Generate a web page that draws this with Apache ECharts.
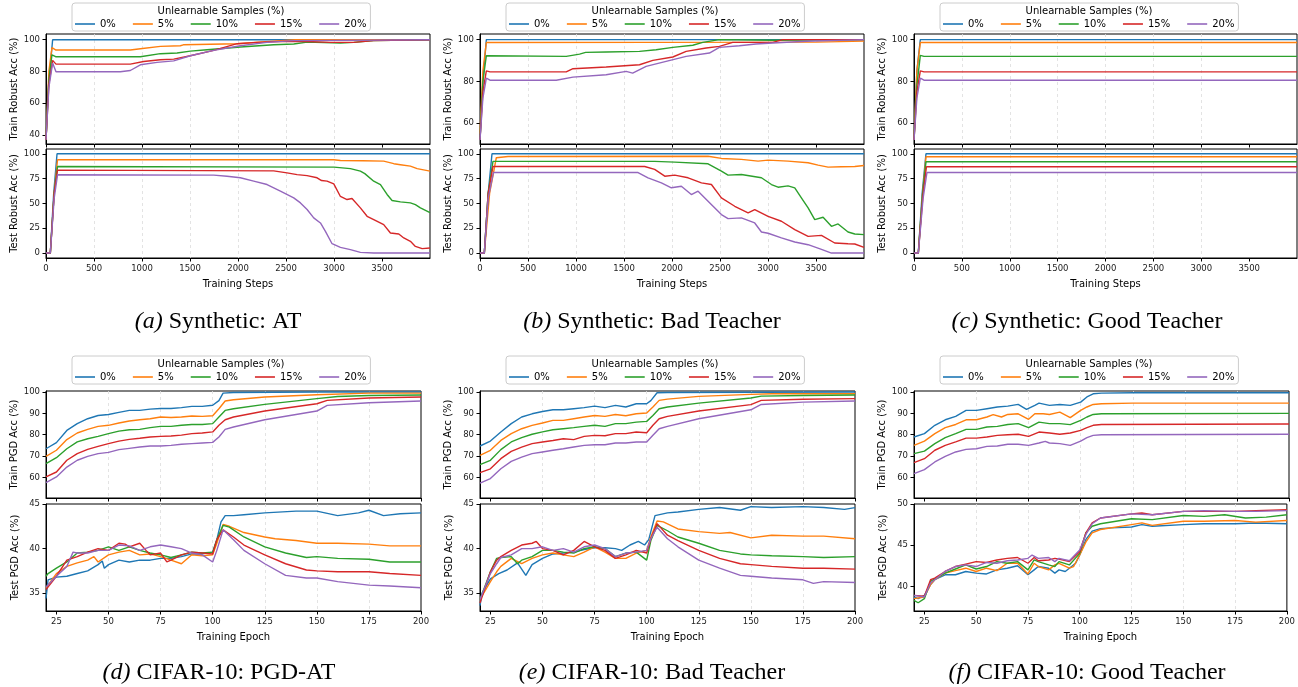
<!DOCTYPE html>
<html>
<head>
<meta charset="utf-8">
<script src="https://cdn.jsdelivr.net/npm/echarts@6.0.0/dist/echarts.min.js"></script>
<style>
  html, body { margin: 0; padding: 0; background: #fff; }
  #chart { width: 1298px; height: 687px; }
</style>
</head>
<body>
<div id="chart"></div>
<script>
// series names / colours (matplotlib tab10)
const seriesNames = ['0%', '5%', '10%', '15%', '20%'];
const COLORS = ['#1f77b4', '#ff7f0e', '#2ca02c', '#d62728', '#9467bd'];

// tick labels
const stepTicks = [0, 500, 1000, 1500, 2000, 2500, 3000, 3500];
const epochTicks = [25, 50, 75, 100, 125, 150, 175, 200];
const atTrainTicks = [40, 60, 80, 100];
const teacherTrainTicks = [60, 80, 100];
const synthTestTicks = [0, 25, 50, 75, 100];
const cifarTrainTicks = [60, 70, 80, 90, 100];
const cifarTestTicks = [35, 40, 45];
const goodTestTicks = [40, 45, 50];

// (a) Synthetic: AT  -- [step, acc]
const atTrain0 = [[0, 37], [25, 70], [69, 100], [3999, 100]];
const atTrain5 = [[0, 37], [30, 80], [62, 95], [104, 93.5], [878, 93.5], [983, 94.3], [1191, 95.8], [1399, 96.2], [1430, 96.8], [1990, 97.5], [2441, 99.4], [2600, 100], [3999, 100]];
const atTrain10 = [[0, 37], [30, 75], [62, 90.5], [100, 89.3], [983, 89.3], [1191, 91.2], [1365, 91.6], [1503, 92.8], [1677, 93.7], [2024, 95.4], [2372, 96.8], [2580, 97.3], [2719, 98.5], [3066, 97.9], [3205, 98.3], [3413, 99.4], [3999, 100]];
const atTrain15 = [[0, 37], [30, 72], [69, 87], [104, 84.6], [878, 84.6], [1017, 86.3], [1191, 87.4], [1330, 87.8], [1503, 89.9], [1747, 93.3], [1990, 97.5], [2198, 98.3], [2441, 98.9], [2719, 98.9], [2962, 98.3], [3205, 98.3], [3413, 99.4], [3999, 100]];
const atTrain20 = [[0, 37], [30, 70], [69, 85.3], [104, 79.8], [774, 79.8], [878, 80.6], [983, 84.2], [1156, 85.7], [1330, 86.7], [1503, 89.9], [1747, 93.3], [2024, 96.2], [2302, 98.3], [2580, 99.4], [3999, 100]];
const atTest0 = [[0, 0], [45, 0], [80, 60], [115, 100], [3999, 100]];
const atTest5 = [[0, 0], [45, 0], [85, 60], [120, 94], [2997, 94], [3066, 93.2], [3300, 93], [3517, 92.6], [3622, 90], [3691, 89], [3795, 87.5], [3865, 85], [3999, 82.5]];
const atTest10 = [[0, 0], [45, 0], [85, 60], [120, 87.2], [3000, 86.5], [3170, 85], [3274, 82.5], [3320, 80], [3413, 72.4], [3483, 69], [3552, 59], [3604, 52.9], [3691, 51.5], [3795, 50.5], [3847, 48.8], [3899, 45.5], [3999, 40.7]];
const atTest15 = [[0, 0], [45, 0], [85, 60], [120, 83.5], [2371, 82.8], [2510, 80.8], [2615, 79], [2719, 78], [2823, 75.8], [2870, 73], [2927, 72.4], [2997, 69.7], [3066, 57], [3135, 53.9], [3187, 54.9], [3274, 45.5], [3344, 37], [3413, 33.7], [3517, 28.6], [3587, 20.2], [3674, 19.2], [3726, 15.2], [3795, 11.8], [3847, 6.7], [3917, 4.4], [3999, 5]];
const atTest20 = [[0, 0], [45, 0], [85, 55], [120, 78.8], [1747, 78.5], [1885, 77.4], [2024, 75.8], [2163, 72.4], [2302, 69], [2441, 62.3], [2580, 55.6], [2650, 50.5], [2719, 43.8], [2788, 35.4], [2858, 30.3], [2910, 21.9], [2979, 9.4], [3066, 5.7], [3170, 3.4], [3274, 0.7], [3413, 0], [3999, 0]];

// (b) Synthetic: Bad Teacher
const btTrain0 = [[0, 52], [30, 80], [66, 100], [3999, 100]];
const btTrain5 = [[0, 55], [30, 85], [66, 98.6], [3500, 98.8], [3999, 99.3]];
const btTrain10 = [[0, 52], [30, 80], [66, 92.3], [898, 92], [1037, 93.1], [1100, 93.9], [1314, 94.1], [1661, 94.4], [1834, 95.2], [2008, 96.3], [2216, 97.3], [2320, 98.7], [2493, 100], [3048, 99.7], [3999, 100]];
const btTrain15 = [[0, 52], [30, 75], [66, 85.1], [104, 84.6], [898, 84.6], [968, 86.1], [1314, 86.9], [1661, 88], [1800, 90.1], [2008, 91.7], [2147, 94.4], [2355, 96], [2493, 96.8], [2632, 98.7], [3048, 98.7], [3152, 100], [3999, 100]];
const btTrain20 = [[0, 52], [30, 72], [66, 81.6], [104, 80.6], [794, 80.6], [968, 82.1], [1314, 83.2], [1522, 84.8], [1590, 84], [1730, 87.2], [1938, 89.6], [2147, 92], [2389, 93.6], [2493, 96.3], [2701, 97.1], [2874, 97.9], [3048, 98.4], [3395, 99.2], [3999, 100]];
const btTest0 = [[0, 0], [45, 0], [85, 60], [125, 100], [3999, 100]];
const btTest5 = [[0, 0], [45, 0], [100, 60], [170, 96], [292, 97.3], [2375, 97.5], [2514, 95.3], [2722, 94.3], [2896, 92.6], [3000, 93.6], [3208, 92.6], [3417, 90.9], [3521, 88.6], [3625, 86.5], [3764, 86.9], [3903, 87.2], [3999, 88.2]];
const btTest10 = [[0, 0], [45, 0], [85, 60], [135, 92.3], [1819, 92.3], [2028, 91.6], [2375, 89.9], [2514, 82.5], [2583, 78.5], [2722, 79.1], [2931, 75.8], [3035, 69], [3104, 66.3], [3208, 67.7], [3278, 65.7], [3347, 55.6], [3417, 45.5], [3486, 33.7], [3573, 36], [3660, 26.9], [3729, 29.3], [3833, 21.2], [3903, 19.2], [3999, 18.5]];
const btTest15 = [[0, 0], [45, 0], [85, 60], [135, 87.2], [1715, 87.2], [1819, 84.2], [1924, 77.4], [2028, 78.5], [2167, 75.8], [2306, 70.7], [2410, 69], [2514, 55.6], [2653, 47.1], [2792, 40.4], [2861, 43.8], [3000, 37], [3139, 32], [3278, 23.6], [3417, 16.8], [3556, 17.8], [3694, 10.1], [3833, 9.4], [3903, 9.1], [3999, 5.7]];
const btTest20 = [[0, 0], [45, 0], [85, 55], [140, 81.1], [1646, 81.1], [1750, 75.8], [1889, 70.7], [1993, 65.7], [2097, 67.3], [2201, 58.9], [2271, 62.3], [2375, 52.2], [2514, 38.7], [2583, 34.7], [2722, 35.4], [2861, 30.3], [2931, 21.2], [3000, 19.9], [3139, 15.2], [3278, 11.1], [3417, 8.4], [3556, 3.7], [3660, 0], [3999, 0]];

// (c) Synthetic: Good Teacher
const gtTrain0 = [[0, 52], [30, 85], [66, 100], [3999, 100]];
const gtTrain5 = [[0, 52], [30, 85], [66, 98.6], [3999, 98.6]];
const gtTrain10 = [[0, 52], [30, 78], [66, 92.5], [104, 92], [3999, 92]];
const gtTrain15 = [[0, 52], [30, 75], [66, 85.1], [104, 84.6], [3999, 84.6]];
const gtTrain20 = [[0, 52], [30, 72], [66, 81.6], [104, 80.6], [3999, 80.6]];
const gtTest0 = [[0, 0], [45, 0], [85, 60], [125, 100], [3999, 100]];
const gtTest5 = [[0, 0], [45, 0], [90, 60], [125, 97], [3999, 97]];
const gtTest10 = [[0, 0], [45, 0], [90, 60], [125, 91.9], [3999, 91.9]];
const gtTest15 = [[0, 0], [45, 0], [95, 60], [130, 86.9], [3999, 86.9]];
const gtTest20 = [[0, 0], [45, 0], [95, 55], [135, 81.1], [3999, 81.1]];

// (d) CIFAR-10: PGD-AT  -- [epoch, acc]
const pgdTrain0 = [[20, 73.4], [25, 76.3], [30, 82], [35, 85.2], [40, 87.5], [45, 89], [50, 89.5], [55, 90.5], [60, 91.4], [65, 91.4], [70, 92], [75, 92.3], [80, 92.3], [85, 92.7], [90, 93.3], [95, 93.3], [100, 93.8], [103, 96], [105, 99.5], [110, 99.8], [150, 100], [200, 100]];
const pgdTrain5 = [[20, 69.8], [25, 72.7], [30, 77.7], [35, 80.8], [40, 82.5], [45, 83.9], [50, 84.4], [55, 85.5], [60, 86.4], [65, 87], [70, 87.5], [75, 88.3], [80, 88.1], [85, 88.3], [90, 88.8], [95, 88.6], [100, 88.9], [103, 92.2], [106, 95.8], [110, 96.4], [125, 97.7], [150, 98.75], [175, 99.5], [200, 99.5]];
const pgdTrain10 = [[20, 66.4], [25, 69.2], [30, 73.4], [35, 76.6], [40, 78.1], [45, 79.2], [50, 80.5], [55, 81.7], [60, 82.3], [65, 82.5], [70, 83.3], [75, 83.9], [80, 83.9], [85, 84.4], [90, 84.8], [95, 84.8], [100, 85.2], [103, 88.3], [106, 91.4], [110, 92.2], [125, 94.2], [150, 96.9], [160, 97.9], [175, 98.4], [200, 98.6]];
const pgdTrain15 = [[20, 60.2], [25, 62.5], [30, 68], [35, 71.1], [40, 73.1], [45, 74.5], [50, 75.8], [55, 77], [60, 77.8], [65, 78.3], [70, 78.9], [75, 79.2], [80, 79.4], [85, 79.8], [90, 80.5], [95, 80.8], [100, 81.3], [103, 84.4], [106, 87], [110, 88.3], [125, 91.1], [150, 94.5], [155, 96.1], [175, 97.2], [200, 97.7]];
const pgdTrain20 = [[20, 57.5], [25, 60.2], [30, 64.8], [35, 68], [40, 69.8], [45, 71.1], [50, 71.7], [55, 73], [60, 73.6], [65, 74.2], [70, 74.7], [75, 74.7], [80, 75], [85, 75.5], [90, 75.8], [95, 76.1], [100, 76.4], [103, 78.9], [106, 82.5], [110, 83.6], [125, 87], [150, 91.1], [155, 93.75], [175, 95], [200, 95.8]];
const pgdTest0 = [[20, 34.4], [21, 36.5], [25, 36.8], [30, 36.9], [35, 37.2], [40, 37.5], [45, 38.2], [47, 38.6], [48, 37.8], [50, 38.2], [55, 38.7], [60, 38.5], [65, 38.7], [70, 38.7], [75, 38.9], [80, 38.9], [85, 39.1], [90, 39.4], [95, 39.4], [100, 39.6], [102, 41], [104, 43], [106, 43.7], [110, 43.7], [115, 43.8], [125, 44], [140, 44.2], [150, 44.2], [160, 43.7], [170, 44], [175, 44.3], [182, 43.7], [190, 43.9], [200, 44]];
const pgdTest5 = [[20, 35.6], [25, 37.2], [30, 38], [35, 38.4], [40, 38.7], [43, 39.1], [45, 38.5], [50, 39.3], [55, 39.6], [60, 39.8], [65, 39.3], [70, 39.4], [75, 39.1], [80, 38.7], [85, 38.3], [90, 39.3], [95, 39.2], [100, 39.3], [102, 40.6], [105, 42.7], [108, 42.5], [115, 41.8], [125, 41.3], [130, 41.1], [140, 40.9], [150, 40.6], [160, 40.6], [175, 40.5], [185, 40.3], [200, 40.3]];
const pgdTest10 = [[20, 36.9], [21, 37.2], [25, 37.8], [30, 38.5], [35, 39.5], [40, 39.6], [45, 39.8], [50, 40.2], [55, 39.8], [60, 40.2], [65, 39.8], [70, 39.5], [75, 39.3], [80, 39], [85, 39.3], [90, 39.6], [95, 39.5], [100, 39.6], [102, 41], [105, 42.6], [108, 42.4], [115, 41.3], [125, 40.2], [135, 39.5], [145, 39], [150, 39.1], [160, 38.9], [175, 38.8], [185, 38.5], [200, 38.5]];
const pgdTest15 = [[20, 35.4], [25, 36.9], [30, 38.7], [35, 39.1], [40, 39.6], [45, 40], [50, 39.8], [55, 40.6], [58, 40.5], [60, 40.2], [65, 40.6], [68, 39.8], [70, 39.3], [75, 39.5], [78, 38.5], [80, 38.7], [85, 39.3], [90, 39.6], [95, 39.5], [100, 39.4], [102, 41], [105, 42.1], [110, 41.3], [115, 40.4], [125, 39.3], [135, 38.3], [145, 37.6], [150, 37.5], [160, 37.4], [175, 37.4], [185, 37.2], [200, 37]];
const pgdTest20 = [[20, 35.7], [25, 36.9], [30, 38], [33, 39.6], [35, 39.5], [40, 39.5], [45, 39.8], [50, 39.8], [55, 40.4], [60, 40.3], [65, 39.8], [70, 40.2], [75, 40.4], [80, 40.2], [85, 40], [90, 39.5], [95, 39.3], [100, 38.5], [102, 39.8], [105, 42.1], [110, 41], [115, 39.8], [125, 38.3], [135, 37], [145, 36.7], [150, 36.7], [160, 36.3], [175, 35.9], [185, 35.8], [200, 35.6]];

// (e) CIFAR-10: Bad Teacher
const bdTrain0 = [[20, 74.7], [25, 77], [30, 81.3], [35, 85.2], [40, 88.3], [45, 89.8], [50, 90.9], [55, 91.7], [60, 91.7], [65, 92.2], [70, 92.7], [75, 93.4], [80, 92.7], [85, 93.75], [90, 93], [95, 94.5], [100, 94.5], [102, 96], [105, 99.7], [110, 99.8], [200, 100]];
const bdTrain5 = [[20, 70.3], [25, 72.7], [30, 77.3], [35, 80.5], [40, 82.8], [45, 84.4], [50, 85.5], [55, 86.7], [60, 86.7], [65, 87.5], [70, 88.3], [75, 89], [80, 88.6], [85, 89.5], [90, 88.9], [95, 89.8], [100, 90.2], [103, 93], [106, 96.1], [110, 96.7], [125, 98], [150, 98.9], [160, 99.2], [200, 99.2]];
const bdTrain10 = [[20, 66], [25, 68], [30, 73], [35, 76.6], [40, 78.6], [45, 80.2], [50, 81.3], [55, 82.3], [60, 82.8], [65, 83.3], [70, 83.9], [75, 84.4], [80, 83.9], [85, 85.2], [90, 85.2], [95, 85.9], [100, 86.25], [103, 89], [106, 92.2], [110, 93], [125, 94.8], [150, 97.2], [155, 98.1], [175, 98.4], [200, 98.6]];
const bdTrain15 = [[20, 62.2], [25, 64], [30, 68.75], [35, 72.2], [40, 74.2], [45, 75.8], [50, 76.6], [55, 77.3], [60, 78.1], [65, 77.7], [70, 79.2], [75, 79.7], [80, 79.5], [85, 80.5], [90, 80.5], [95, 81.25], [100, 80.9], [103, 84.4], [106, 87.5], [110, 88.6], [125, 91.1], [150, 94.1], [155, 96.1], [175, 96.6], [200, 96.9]];
const bdTrain20 = [[20, 57.3], [25, 59.4], [30, 64], [35, 67.5], [40, 69.5], [45, 71.1], [50, 71.9], [55, 72.7], [60, 73.4], [65, 74.2], [70, 75], [75, 75.3], [80, 75.3], [85, 76.1], [90, 76.1], [95, 76.6], [100, 76.6], [103, 79.7], [106, 82.8], [110, 83.9], [125, 87.5], [150, 91.7], [155, 94.2], [175, 95.3], [200, 95.8]];
const bdTest0 = [[20, 33.6], [21, 35], [25, 36.6], [29, 37.2], [33, 37.6], [38, 38.4], [42, 37], [45, 38.2], [50, 38.9], [55, 39.4], [60, 39.5], [65, 39.6], [70, 39.9], [75, 40.1], [80, 40.1], [85, 40], [88, 39.8], [92, 40.4], [96, 40.8], [99, 40.4], [101, 41], [104, 43.7], [110, 44], [115, 44.1], [125, 44.4], [135, 44.6], [145, 44.3], [150, 44.7], [160, 44.6], [175, 44.7], [185, 44.6], [195, 44.4], [200, 44.6]];
const bdTest5 = [[20, 34.3], [25, 36.3], [28, 37.4], [30, 38], [35, 38.9], [40, 38.3], [45, 38.9], [50, 39.3], [55, 39.5], [60, 39.3], [65, 39.1], [70, 39.6], [75, 40.2], [80, 39.6], [85, 38.9], [90, 38.9], [95, 39.5], [100, 39.8], [102, 41.3], [105, 43.1], [108, 43], [115, 42.2], [125, 41.9], [135, 41.7], [140, 41.8], [150, 41.2], [160, 41.5], [175, 41.4], [185, 41.4], [200, 41.1]];
const bdTest10 = [[20, 34.3], [25, 37.4], [28, 38.9], [30, 39], [35, 39.1], [38, 38.3], [40, 38.7], [45, 39.1], [50, 39.8], [55, 39.8], [60, 39.6], [65, 39.5], [70, 40], [75, 40.2], [80, 40], [85, 39.1], [90, 39.5], [95, 39.6], [100, 38.7], [102, 40.9], [105, 42.6], [110, 42], [115, 41.3], [125, 40.6], [135, 39.8], [145, 39.4], [150, 39.3], [160, 39.2], [175, 39.1], [185, 39], [200, 39.1]];
const bdTest15 = [[20, 33.9], [25, 37.4], [28, 38.7], [30, 39.1], [35, 39.8], [40, 40.4], [45, 40.6], [47, 40.8], [50, 40], [55, 39.8], [60, 39.3], [65, 39.8], [70, 40.8], [75, 40.2], [80, 39.8], [85, 38.9], [90, 39.3], [95, 39.8], [100, 39.5], [102, 41.1], [105, 42.8], [110, 41.5], [115, 40.9], [125, 39.8], [135, 38.9], [145, 38.3], [150, 38.2], [160, 38], [175, 37.8], [185, 37.8], [200, 37.7]];
const bdTest20 = [[20, 34.3], [25, 37.2], [28, 38.3], [30, 39], [35, 39.3], [40, 40], [45, 40], [50, 40.2], [55, 39.8], [60, 40], [65, 39.6], [70, 40.2], [75, 40.4], [80, 40], [85, 39.1], [90, 39.5], [95, 39.6], [100, 39.8], [102, 41.1], [105, 42.4], [110, 41.1], [115, 40.2], [125, 38.7], [135, 37.8], [145, 37], [150, 36.9], [160, 36.7], [175, 36.5], [180, 36.1], [185, 36.3], [200, 36.2]];

// (f) CIFAR-10: Good Teacher
const gdTrain0 = [[20, 78.9], [25, 80.5], [30, 84.4], [35, 87], [40, 88.6], [45, 91.4], [50, 91.4], [55, 92.2], [60, 93], [65, 93.4], [70, 94.2], [74, 91.9], [78, 93.75], [80, 94.8], [85, 93.75], [90, 94.2], [95, 93.75], [100, 95.3], [103, 97.7], [106, 99.2], [110, 99.5], [125, 99.7], [200, 99.7]];
const gdTrain5 = [[20, 75], [25, 77], [30, 80.5], [35, 83.3], [40, 84.8], [45, 87], [50, 87], [55, 88.3], [58, 89.4], [62, 88.3], [65, 89.5], [70, 89.8], [75, 87.2], [78, 89.8], [82, 89.8], [85, 89.5], [90, 90.6], [95, 88], [100, 91.4], [103, 93], [106, 94.2], [110, 94.5], [125, 94.8], [200, 94.8]];
const gdTrain10 = [[20, 71.1], [25, 72.3], [30, 75.8], [35, 78.6], [40, 80.5], [45, 82.5], [50, 82.5], [55, 83.6], [60, 83.9], [65, 84.8], [70, 85.2], [75, 83.3], [80, 85.9], [85, 85.2], [90, 85.2], [95, 84.7], [100, 86.7], [103, 88.3], [106, 89.5], [110, 89.8], [200, 90]];
const gdTrain15 = [[20, 66.9], [25, 68.75], [30, 72.7], [35, 75], [40, 76.6], [45, 78.4], [50, 78.4], [55, 78.9], [60, 79.7], [65, 80], [70, 80.2], [75, 79.2], [80, 81.25], [85, 80.8], [90, 80.2], [95, 80.8], [100, 82], [103, 83.3], [106, 84.4], [110, 84.8], [200, 85]];
const gdTrain20 = [[20, 61.7], [25, 63.6], [30, 67.2], [35, 69.8], [40, 71.9], [45, 73.1], [50, 73.4], [55, 74.5], [60, 74.7], [65, 75.5], [70, 75.5], [75, 75], [80, 76.1], [83, 76.9], [85, 76.1], [90, 75.8], [95, 75], [100, 77], [103, 78.6], [106, 79.7], [110, 80], [200, 80.2]];
const gdTest0 = [[20, 38.7], [22, 38.5], [25, 38.9], [28, 40.2], [30, 40.8], [35, 41.4], [40, 41.4], [45, 41.8], [50, 41.6], [55, 41.5], [60, 42], [65, 42.2], [70, 42.5], [75, 41.4], [78, 42], [80, 42.4], [85, 42.2], [88, 41.6], [90, 42], [93, 41.8], [95, 42.2], [98, 42.8], [100, 43.8], [103, 45.7], [106, 46.7], [110, 47], [115, 47.1], [125, 47.2], [130, 47.5], [135, 47.3], [150, 47.5], [160, 47.6], [175, 47.6], [185, 47.7], [200, 47.6]];
const gdTest5 = [[20, 38.5], [25, 38.7], [28, 40.2], [30, 40.8], [35, 41.6], [40, 41.9], [45, 42.2], [50, 41.8], [55, 42.2], [60, 41.9], [65, 42.8], [70, 42.8], [75, 41.5], [78, 42.8], [80, 42.4], [85, 42], [88, 42.6], [90, 42.8], [95, 42.2], [97, 42.4], [100, 43.8], [103, 45.4], [106, 46.5], [110, 46.9], [125, 47.5], [130, 47.7], [135, 47.4], [150, 47.9], [160, 47.9], [175, 48], [185, 47.8], [200, 48]];
const gdTest10 = [[20, 38.3], [22, 38], [25, 38.5], [28, 40.6], [30, 40.9], [35, 41.6], [40, 42.1], [45, 42.6], [50, 42.1], [55, 42.4], [60, 43], [65, 42.8], [70, 43], [75, 42], [78, 43.2], [80, 43], [85, 42.6], [88, 42.4], [90, 43], [95, 42.6], [100, 44], [103, 46.5], [106, 47.3], [110, 47.6], [125, 48.2], [135, 48.1], [150, 48.6], [160, 48.5], [170, 48.7], [180, 48.3], [190, 48.4], [200, 48.7]];
const gdTest15 = [[20, 38.9], [25, 38.8], [28, 40.8], [30, 41], [35, 41.8], [40, 42.4], [45, 42.7], [50, 43], [55, 42.9], [60, 43.2], [65, 43.4], [70, 43.5], [75, 42.8], [78, 43.5], [80, 43.1], [85, 43.2], [88, 43.4], [90, 43.3], [95, 43], [100, 44.2], [103, 46.5], [106, 47.7], [110, 48.3], [125, 48.8], [130, 48.9], [135, 48.7], [150, 49.1], [175, 49.1], [185, 49.2], [200, 49.3]];
const gdTest20 = [[20, 38.9], [25, 38.7], [28, 40.4], [30, 40.8], [35, 41.8], [40, 42.4], [45, 42.6], [50, 42.4], [55, 42.9], [60, 42.8], [65, 43.1], [70, 43.2], [75, 43.4], [77, 43.8], [80, 43.4], [85, 43.5], [88, 43], [90, 43.4], [95, 43.1], [100, 44.4], [103, 46.3], [106, 47.6], [110, 48.3], [125, 48.8], [135, 48.7], [150, 49.1], [160, 49.2], [175, 49.1], [185, 49.1], [200, 49.2]];

const FONT = 'DejaVu Sans';
const SERIF = 'Liberation Serif';

// layout of the six panels (pixels)
const panels = [
  {
    tag: '(a)', title: 'Synthetic: AT', left: 46, width: 384, row: 0, captionX: 218,
    train: [atTrain0, atTrain5, atTrain10, atTrain15, atTrain20],
    test: [atTest0, atTest5, atTest10, atTest15, atTest20],
    trainRange: [34.3, 103.6], trainTicks: atTrainTicks,
    testRange: [-5, 104.8], testTicks: synthTestTicks,
  },
  {
    tag: '(b)', title: 'Synthetic: Bad Teacher', left: 480, width: 384, row: 0, captionX: 652,
    train: [btTrain0, btTrain5, btTrain10, btTrain15, btTrain20],
    test: [btTest0, btTest5, btTest10, btTest15, btTest20],
    trainRange: [50.1, 102.7], trainTicks: teacherTrainTicks,
    testRange: [-5, 104.8], testTicks: synthTestTicks,
  },
  {
    tag: '(c)', title: 'Synthetic: Good Teacher', left: 914, width: 383, row: 0, captionX: 1087,
    train: [gtTrain0, gtTrain5, gtTrain10, gtTrain15, gtTrain20],
    test: [gtTest0, gtTest5, gtTest10, gtTest15, gtTest20],
    trainRange: [50.1, 102.7], trainTicks: teacherTrainTicks,
    testRange: [-5, 104.8], testTicks: synthTestTicks,
  },
  {
    tag: '(d)', title: 'CIFAR-10: PGD-AT', left: 46, width: 375, row: 1, captionX: 219,
    train: [pgdTrain0, pgdTrain5, pgdTrain10, pgdTrain15, pgdTrain20],
    test: [pgdTest0, pgdTest5, pgdTest10, pgdTest15, pgdTest20],
    trainRange: [50.3, 100.5], trainTicks: cifarTrainTicks,
    testRange: [33, 45], testTicks: cifarTestTicks,
  },
  {
    tag: '(e)', title: 'CIFAR-10: Bad Teacher', left: 480, width: 375, row: 1, captionX: 652,
    train: [bdTrain0, bdTrain5, bdTrain10, bdTrain15, bdTrain20],
    test: [bdTest0, bdTest5, bdTest10, bdTest15, bdTest20],
    trainRange: [50.3, 100.5], trainTicks: cifarTrainTicks,
    testRange: [33, 45], testTicks: cifarTestTicks,
  },
  {
    tag: '(f)', title: 'CIFAR-10: Good Teacher', left: 914, width: 375, row: 1, captionX: 1087,
    train: [gdTrain0, gdTrain5, gdTrain10, gdTrain15, gdTrain20],
    test: [gdTest0, gdTest5, gdTest10, gdTest15, gdTest20],
    trainRange: [50.3, 100.5], trainTicks: cifarTrainTicks,
    testRange: [37, 50], testTicks: goodTestTicks,
  },
];

// per-row settings
const rows = [
  {
    trainTop: 34, trainH: 110, testTop: 149, testH: 109,
    xRange: [0, 3999], xTicks: stepTicks, xName: 'Training Steps',
    trainName: 'Train Robust Acc (%)', testName: 'Test Robust Acc (%)',
    legendTop: 3, captionY: 322,
  },
  {
    trainTop: 391, trainH: 107, testTop: 504, testH: 107,
    xRange: [20, 200], xTicks: epochTicks, xName: 'Training Epoch',
    trainName: 'Train PGD Acc (%)', testName: 'Test PGD Acc (%)',
    legendTop: 356, captionY: 673,
  },
];

const textStyle = { fontFamily: FONT, color: '#000' };
const plain = (v) => String(v);

const makeXAxis = (gridIndex, row, withLabels) => ({
  type: 'value',
  gridIndex,
  min: row.xRange[0],
  max: row.xRange[1],
  name: withLabels ? row.xName : '',
  nameLocation: 'middle',
  nameGap: 21,
  nameTextStyle: { ...textStyle, fontSize: 10 },
  axisLine: { show: true, onZero: false, lineStyle: { color: '#000', width: 1 } },
  axisTick: { show: true, length: 3.5, customValues: row.xTicks, lineStyle: { color: '#000' } },
  axisLabel: {
    show: withLabels, customValues: row.xTicks, margin: 6, formatter: plain,
    fontFamily: FONT, fontSize: 8.5, color: '#222',
  },
  splitLine: {
    show: true, showMinLine: false, showMaxLine: false,
    lineStyle: { color: '#dcdcdc', width: 0.8, type: [3, 3] },
  },
});

const makeYAxis = (gridIndex, range, ticks, name) => ({
  type: 'value',
  gridIndex,
  min: range[0],
  max: range[1],
  name,
  nameLocation: 'middle',
  nameGap: 26,
  nameTextStyle: { ...textStyle, fontSize: 10 },
  axisLine: { show: true, onZero: false, lineStyle: { color: '#000', width: 1 } },
  axisTick: { show: true, length: 3.5, customValues: ticks, lineStyle: { color: '#000' } },
  axisLabel: { customValues: ticks, margin: 6, formatter: plain, fontFamily: FONT, fontSize: 8.5, color: '#222' },
  splitLine: { show: false },
});

const option = {
  animation: false,
  backgroundColor: '#fff',
  color: COLORS,
  grid: [],
  xAxis: [],
  yAxis: [],
  legend: [],
  series: [],
  graphic: [],
};

panels.forEach((p) => {
  const row = rows[p.row];
  const parts = [
    { top: row.trainTop, height: row.trainH, lines: p.train, range: p.trainRange, ticks: p.trainTicks, name: row.trainName, labels: false },
    { top: row.testTop, height: row.testH, lines: p.test, range: p.testRange, ticks: p.testTicks, name: row.testName, labels: true },
  ];
  parts.forEach((part) => {
    const gi = option.grid.length;
    option.grid.push({
      left: p.left, top: part.top, width: p.width, height: part.height,
      show: true, borderColor: '#000', borderWidth: 1, containLabel: false,
    });
    option.xAxis.push(makeXAxis(gi, row, part.labels));
    option.yAxis.push(makeYAxis(gi, part.range, part.ticks, part.name));
    part.lines.forEach((data, k) => {
      option.series.push({
        type: 'line',
        name: seriesNames[k],
        xAxisIndex: gi,
        yAxisIndex: gi,
        data,
        symbol: 'none',
        clip: true,
        lineStyle: { width: 1.4, color: COLORS[k] },
        itemStyle: { color: COLORS[k] },
      });
    });
  });

  // legend box with its title
  const legendLeft = p.left + 26;
  option.legend.push({
    data: seriesNames,
    left: legendLeft,
    top: row.legendTop,
    orient: 'horizontal',
    icon: 'rect',
    itemWidth: 20,
    itemHeight: 1.6,
    itemGap: 17,
    padding: [16, 4, 2, 3],
    backgroundColor: 'rgba(255,255,255,0.85)',
    borderColor: '#cccccc',
    borderWidth: 1,
    borderRadius: 3,
    selectedMode: false,
    textStyle: { ...textStyle, fontSize: 10 },
    z: 10,
  });
  option.graphic.push({
    type: 'text',
    x: legendLeft + 149,
    y: row.legendTop + 8,
    z: 100,
    style: {
      text: 'Unlearnable Samples (%)',
      font: `10px "${FONT}"`,
      fill: '#000',
      textAlign: 'center',
      textVerticalAlign: 'middle',
    },
  });

  // sub-figure caption
  option.graphic.push({
    type: 'text',
    x: p.captionX,
    y: row.captionY,
    style: {
      text: `{tag|${p.tag}} ${p.title}`,
      fill: '#000',
      fontFamily: SERIF,
      fontSize: 24,
      textAlign: 'center',
      textVerticalAlign: 'middle',
      rich: {
        tag: { fontFamily: SERIF, fontSize: 24, fontStyle: 'italic', fill: '#000' },
      },
    },
  });
});

const chart = echarts.init(document.getElementById('chart'), null, { renderer: 'canvas' });
chart.setOption(option);
</script>
</body>
</html>
